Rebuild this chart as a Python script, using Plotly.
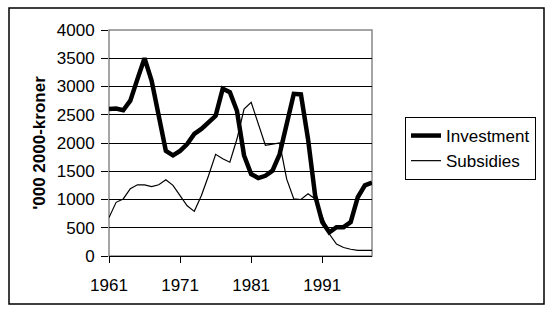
import plotly.graph_objects as go

years = list(range(1961, 1999))
investment = [2600, 2610, 2580, 2750, 3130, 3500, 3100, 2480, 1860, 1780,
              1860, 1980, 2160, 2250, 2370, 2480, 2960, 2900, 2570, 1780,
              1450, 1380, 1420, 1510, 1800, 2340, 2870, 2860, 2070, 1070,
              600, 420, 510, 510, 600, 1040, 1250, 1300]
subsidies = [680, 950, 1010, 1190, 1260, 1260, 1230, 1260, 1350, 1250,
             1070, 890, 790, 1070, 1420, 1800, 1720, 1660, 2070, 2600,
             2720, 2340, 1960, 1980, 2000, 1360, 1010, 1000, 1100, 1010,
             710, 390, 210, 150, 120, 100, 100, 100]
x_ticks = [1961, 1971, 1981, 1991]
y_ticks = [0, 500, 1000, 1500, 2000, 2500, 3000, 3500, 4000]

fig = go.Figure()
fig.add_trace(go.Scatter(x=years, y=investment, mode="lines", name="Investment",
                         line=dict(color="black", width=4.5)))
fig.add_trace(go.Scatter(x=years, y=subsidies, mode="lines", name="Subsidies",
                         line=dict(color="black", width=1.2)))

L, R, T, B = 109, 372, 30, 256
W, H = R - L, B - T

font = "Liberation Sans, Arial, sans-serif"
fig.update_layout(
    width=550, height=312,
    margin=dict(l=L, r=550 - R, t=T, b=312 - B),
    paper_bgcolor="white", plot_bgcolor="white",
    font=dict(family=font, size=17, color="black"),
    showlegend=True,
    legend=dict(x=(405 - L) / W, y=(B - 117) / H, xanchor="left", yanchor="top",
                bordercolor="black", borderwidth=1, bgcolor="white",
                font=dict(size=17), itemwidth=30, tracegroupgap=0),
    xaxis=dict(range=[1961, 1998], tickvals=x_ticks, ticktext=[str(v) for v in x_ticks],
               showgrid=False, zeroline=False, showline=True, linecolor="black", linewidth=1,
               ticks="outside", ticklen=6, tickcolor="black", tickfont=dict(size=17),
               ticklabelstandoff=8),
    yaxis=dict(range=[0, 4000], tickvals=y_ticks, showgrid=True, gridcolor="black", gridwidth=1,
               zeroline=False, showline=False, ticks="outside", ticklen=7, tickcolor="black",
               tickfont=dict(size=17), ticklabelstandoff=3,
               title=dict(text="<b>'000 2000-kroner</b>", font=dict(size=17), standoff=6)),
    shapes=[
        dict(type="rect", xref="x domain", yref="y domain", x0=0, x1=1, y0=0, y1=1,
             line=dict(color="#888888", width=1.5), layer="below"),
        dict(type="rect", xref="paper", yref="paper",
             x0=(9 - L) / W, x1=(544 - L) / W,
             y0=(B - 304) / H, y1=(B - 8) / H,
             line=dict(color="black", width=1.5)),
    ],
)
fig.write_html("out.html")
